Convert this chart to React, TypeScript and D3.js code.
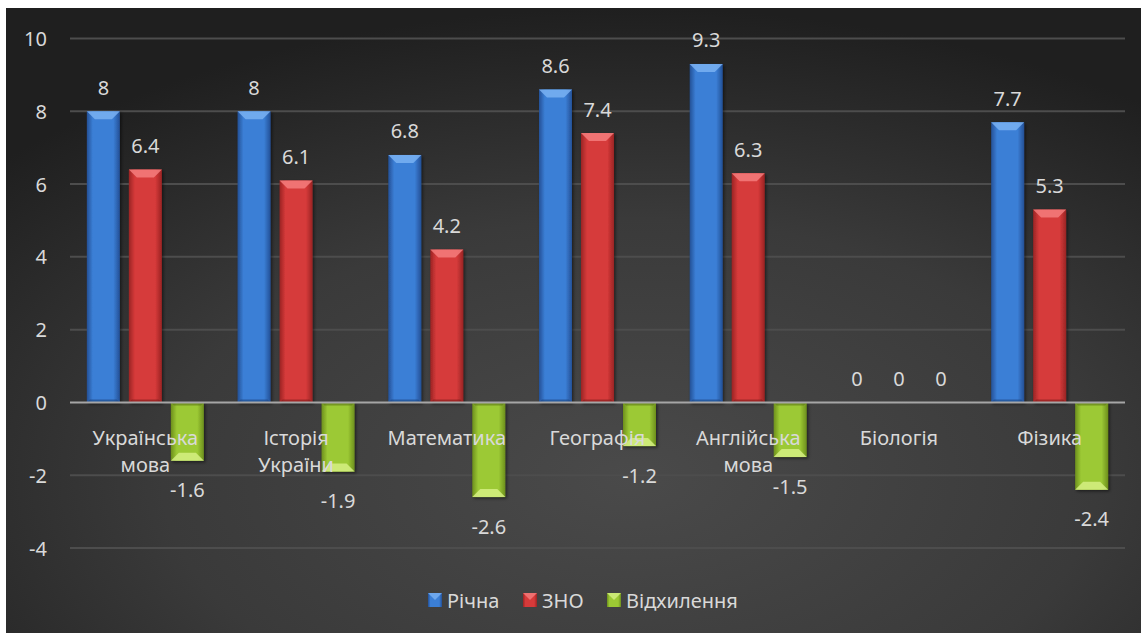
import React from 'react';
import * as d3 from 'd3';

const categories = ['Українська мова', 'Історія України', 'Математика', 'Географія', 'Англійська мова', 'Біологія', 'Фізика'];
const seriesNames = ['Річна', 'ЗНО', 'Відхилення'];
const richna = [8, 8, 6.8, 8.6, 9.3, 0, 7.7];
const zno = [6.4, 6.1, 4.2, 7.4, 6.3, 0, 5.3];
const vidhylennia = [-1.6, -1.9, -2.6, -1.2, -1.5, 0, -2.4];
const yTicks = [-4, -2, 0, 2, 4, 6, 8, 10];

const W = 1143;
const H = 633;
const FONT = '"Noto Sans", "Open Sans", sans-serif';
const TEXT = '#d9d9d9';
const FS = 20;

const palettes = [
  { id: 'blue', dark: '#245096', mid: '#3b7fd6', light: '#7ab2f2', shade: '#1d4580' },
  { id: 'red', dark: '#9a2424', mid: '#d63a3a', light: '#f47e7e', shade: '#7f1c1c' },
  { id: 'green', dark: '#6d8f1d', mid: '#9cc934', light: '#d6f084', shade: '#5a7716' },
];

export default function App() {
  const series = [richna, zno, vidhylennia];

  const x = d3.scaleBand<string>().domain(categories).range([70, 1125]);
  const inner = d3.scaleBand<number>().domain([0, 1, 2]).range([-58.5, 58.5]).paddingInner(0.214);
  const y = d3.scaleLinear().domain([-4, 10]).range([548, 38.5]);

  const bw = inner.bandwidth();
  const bev = 8;

  const bars: React.ReactNode[] = [];
  const labels: React.ReactNode[] = [];
  categories.forEach((c, i) => {
    const cx = (x(c) as number) + x.bandwidth() / 2;
    series.forEach((vals, s) => {
      const v = vals[i];
      const p = palettes[s];
      const bx = cx + (inner(s) as number);
      const y0 = y(0);
      const y1 = y(v);
      const top = Math.min(y0, y1);
      const h = Math.abs(y1 - y0);
      if (h > 0) {
        const endY = v >= 0 ? top : top + h;
        const baseY = v >= 0 ? top + h : top;
        const dir = v >= 0 ? 1 : -1;
        bars.push(
          <g key={`b${i}-${s}`} filter="url(#shadow)">
            <rect x={bx} y={top} width={bw} height={h} fill={`url(#g-${p.id})`} />
            <polygon
              points={`${bx},${endY} ${bx + bw},${endY} ${bx + bw - bev},${endY + dir * bev} ${bx + bev},${endY + dir * bev}`}
              fill={p.light}
              opacity={0.85}
            />
            <polygon
              points={`${bx},${baseY} ${bx + bw},${baseY} ${bx + bw - 3},${baseY - dir * 3} ${bx + 3},${baseY - dir * 3}`}
              fill={p.shade}
              opacity={0.6}
            />
          </g>
        );
      }
      const ly = v >= 0 ? y1 - 24 : y1 + 29;
      labels.push(
        <text key={`l${i}-${s}`} x={bx + bw / 2} y={ly} textAnchor="middle" dominantBaseline="central"
          fill={TEXT} fontSize={FS} fontFamily={FONT}>
          {String(v)}
        </text>
      );
    });
  });

  const legendItems = [
    { name: seriesNames[0], x: 428 },
    { name: seriesNames[1], x: 523 },
    { name: seriesNames[2], x: 607 },
  ];

  return (
    <svg width={W} height={H} style={{ position: 'absolute', left: 0, top: 0 }}>
      <defs>
        <radialGradient id="bg" cx="55%" cy="75%" r="75%">
          <stop offset="0%" stopColor="#4a4a4a" />
          <stop offset="55%" stopColor="#3a3a3a" />
          <stop offset="100%" stopColor="#1f1f1f" />
        </radialGradient>
        {palettes.map((p) => (
          <linearGradient key={p.id} id={`g-${p.id}`} x1="0" x2="1" y1="0" y2="0">
            <stop offset="0%" stopColor={p.dark} />
            <stop offset="18%" stopColor={p.mid} />
            <stop offset="80%" stopColor={p.mid} />
            <stop offset="100%" stopColor={p.dark} />
          </linearGradient>
        ))}
        <filter id="shadow" x="-20%" y="-20%" width="140%" height="140%">
          <feDropShadow dx="1.5" dy="1.5" stdDeviation="1.5" floodColor="#000" floodOpacity="0.5" />
        </filter>
      </defs>
      <rect x={6} y={8} width={1135} height={625} fill="url(#bg)" />

      {yTicks.filter((t) => t !== 0).map((t) => (
        <line key={t} x1={70} x2={1125} y1={y(t)} y2={y(t)} stroke="#4d4d4d" strokeWidth={2} />
      ))}
      {yTicks.map((t) => (
        <text key={`t${t}`} x={47} y={y(t)} textAnchor="end" dominantBaseline="central"
          fill={TEXT} fontSize={FS} fontFamily={FONT}>
          {t}
        </text>
      ))}

      {bars}
      <line x1={70} x2={1125} y1={y(0)} y2={y(0)} stroke="#a6a6a6" strokeWidth={2} />

      {categories.map((c) => {
        const cx = (x(c) as number) + x.bandwidth() / 2;
        const lines = c.split(' ');
        return (
          <text key={c} x={cx} textAnchor="middle" fill={TEXT} fontSize={FS} fontFamily={FONT}>
            {lines.map((ln, k) => (
              <tspan key={k} x={cx} y={437 + k * 27} dominantBaseline="central">{ln}</tspan>
            ))}
          </text>
        );
      })}

      {labels}

      {legendItems.map((it, s) => {
        const p = palettes[s];
        return (
          <g key={it.name}>
            <rect x={it.x} y={593} width={14} height={14} fill={`url(#g-${p.id})`} />
            <polygon points={`${it.x},593 ${it.x + 14},593 ${it.x + 7},600`} fill={p.light} opacity={0.8} />
            <text x={it.x + 19} y={600} dominantBaseline="central" fill={TEXT} fontSize={FS} fontFamily={FONT}>
              {it.name}
            </text>
          </g>
        );
      })}
    </svg>
  );
}
